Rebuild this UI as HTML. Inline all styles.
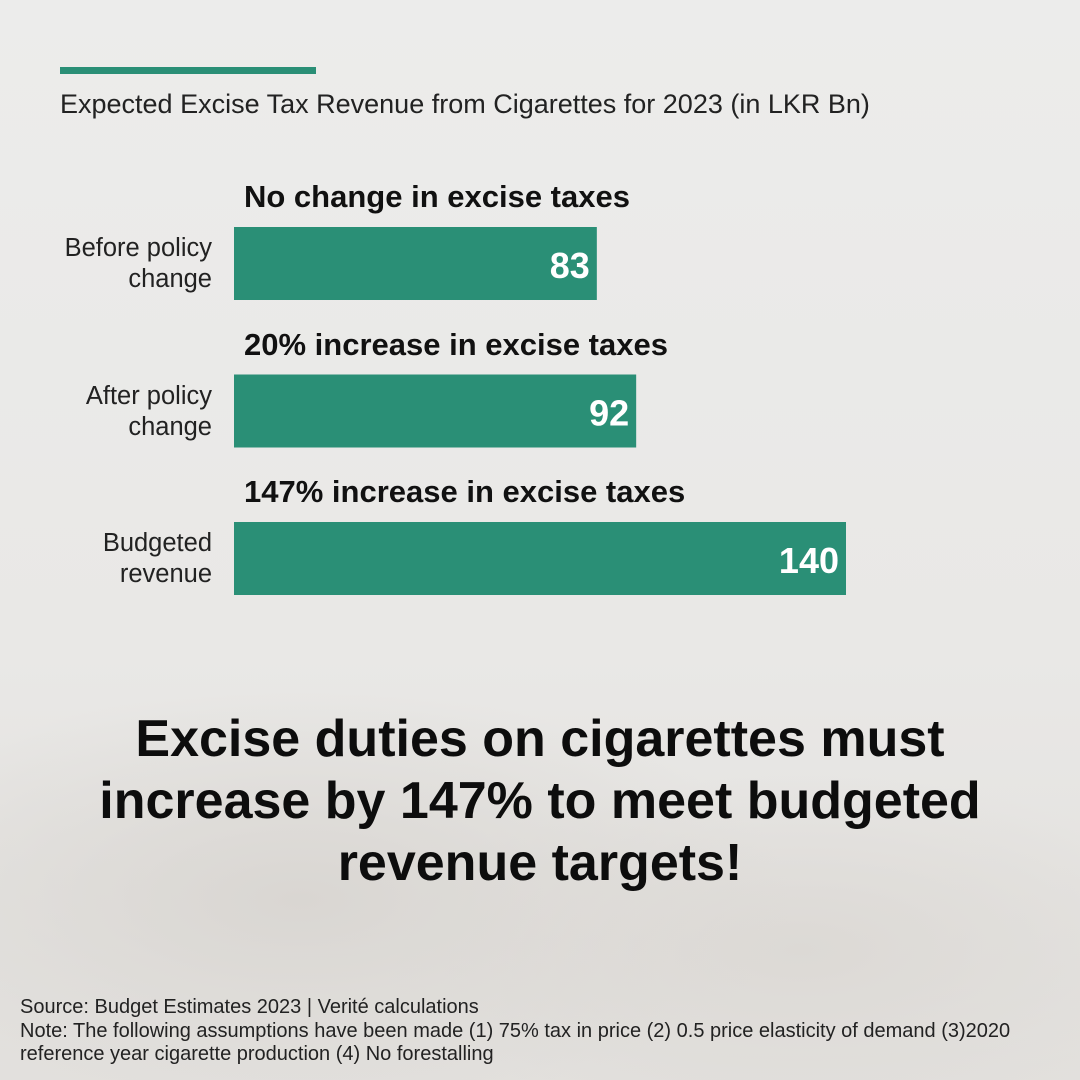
<!DOCTYPE html>
<html><head><meta charset="utf-8">
<style>
html,body{margin:0;padding:0}
body{width:1080px;height:1080px;position:relative;overflow:hidden;font-family:"Liberation Sans",sans-serif;color:#111;
background:radial-gradient(ellipse 700px 300px at 300px 900px,#d9d6d2 0%,rgba(233,232,230,0) 70%),radial-gradient(ellipse 600px 250px at 800px 950px,#dcd9d5 0%,rgba(233,232,230,0) 70%),linear-gradient(#ececeb,#e9e8e6 60%,#e2e0dd);}
.abs{position:absolute}
.lbl{position:absolute;right:868px;text-align:right;font-size:25.5px;line-height:31px;color:#222}
.head{position:absolute;left:244px;font-size:31px;font-weight:bold;color:#111;white-space:nowrap}
</style></head><body>
<div class="abs" style="left:60px;top:67px;width:256px;height:7px;background:#2a8f76"></div>
<div class="abs" style="left:60px;top:89px;font-size:27px;white-space:nowrap;color:#222">Expected Excise Tax Revenue from Cigarettes for 2023 (in LKR Bn)</div>
<svg id="chart" class="abs" style="left:0;top:0" width="1080" height="650"></svg>
<div class="abs" style="left:0;width:1080px;top:708px;text-align:center;font-size:52px;font-weight:bold;line-height:62px;color:#0d0d0d">Excise duties on cigarettes must<br>increase by 147% to meet budgeted<br>revenue targets!</div>
<div class="abs" style="left:20px;top:996px;font-size:20px;line-height:23.5px;color:#222;white-space:nowrap">Source: Budget Estimates 2023 | Verité calculations<br>Note: The following assumptions have been made (1) 75% tax in price (2) 0.5 price elasticity of demand (3)2020<br>reference year cigarette production (4) No forestalling</div>
<script>
const categories=["Before policy|change","After policy|change","Budgeted|revenue"];
const headings=["No change in excise taxes","20% increase in excise taxes","147% increase in excise taxes"];
const values=[83,92,140];
const svg=document.getElementById('chart');
const NS='http://www.w3.org/2000/svg';
const x0=234, scale=(846-234)/140;
function xs(v){return x0+v*scale;}
function yb(i){return 227+i*147.5;}
values.forEach((v,i)=>{
  const r=document.createElementNS(NS,'rect');
  r.setAttribute('x',x0);r.setAttribute('y',yb(i));r.setAttribute('width',xs(v)-x0);r.setAttribute('height',73);r.setAttribute('fill','#2a8f76');
  
  
  svg.appendChild(r);
  const t=document.createElementNS(NS,'text');
  t.setAttribute('x',xs(v)-7);t.setAttribute('y',yb(i)+51);t.setAttribute('text-anchor','end');
  t.setAttribute('font-family','Liberation Sans, sans-serif');t.setAttribute('font-weight','bold');t.setAttribute('font-size','36');t.setAttribute('fill','#fff');
  t.textContent=v;
  
  
  svg.appendChild(t);
  const h=document.createElement('div');
  h.className='head';h.style.top=(yb(i)-48)+'px';h.textContent=headings[i];
  
  
  document.body.appendChild(h);
  const l=document.createElement('div');
  l.className='lbl';l.style.top=(yb(i)+6)+'px';l.innerHTML=categories[i].split('|').join('<br>');
  
  
  document.body.appendChild(l);
});
</script>
</body></html>
